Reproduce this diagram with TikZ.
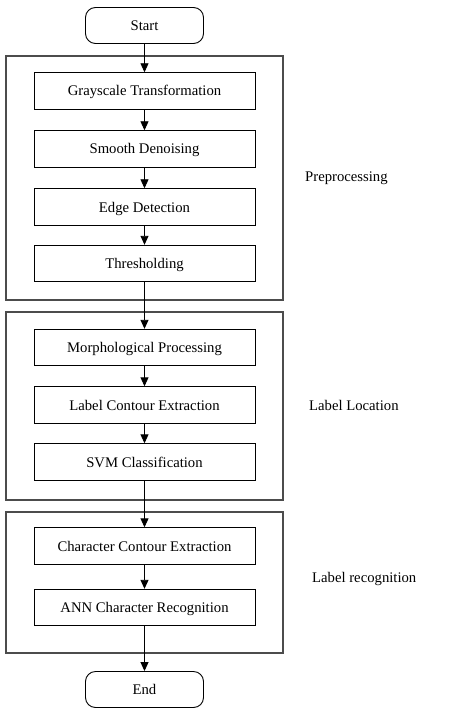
\documentclass[tikz,border=0pt]{standalone}
\usepackage{fontspec}
\setmainfont{Liberation Serif}
\usetikzlibrary{arrows.meta}
\begin{document}
\begin{tikzpicture}[x=1pt,y=-1pt,
  every node/.style={font=\fontsize{14.7}{17}\selectfont, inner sep=0pt, text height=10pt, text depth=0pt},
  proc/.style={draw=black, line width=0.9pt, minimum width=221pt, minimum height=36.5pt},
  term/.style={draw=black, line width=0.9pt, rounded corners=10pt, minimum width=118pt, minimum height=36pt},
  frame/.style={draw=black!70, line width=1.2pt},
  flow/.style={-{Triangle[length=9pt,width=8pt]}, line width=0.9pt},
  grp/.style={anchor=west}]
\useasboundingbox (0,0) rectangle (474,714);
% frames
\draw[frame] (6,56) rectangle (283,300);
\draw[frame] (6,312) rectangle (283,500);
\draw[frame] (6,512) rectangle (283,653);
% nodes
\node[term] (start) at (144.5,25.5) {Start};
\node[proc] (g) at (144.5,91) {Grayscale Transformation};
\node[proc] (s) at (144.5,149) {Smooth Denoising};
\node[proc] (e) at (144.5,207) {Edge Detection};
\node[proc] (t) at (144.5,263.5) {Thresholding};
\node[proc] (m) at (144.5,347.5) {Morphological Processing};
\node[proc] (l) at (144.5,405) {Label Contour Extraction};
\node[proc] (v) at (144.5,462) {SVM Classification};
\node[proc] (c) at (144.5,546) {Character Contour Extraction};
\node[proc] (a) at (144.5,607.5) {ANN Character Recognition};
\node[term] (end) at (144.5,689.5) {End};
% group labels
\node[grp] (p1) at (305,177) {Preprocessing};
\node[grp] (p2) at (309,405.5) {Label Location};
\node[grp] (p3) at (312,577.5) {Label recognition};
% connectors
\draw[flow] (start) -- (g);
\draw[flow] (g) -- (s);
\draw[flow] (s) -- (e);
\draw[flow] (e) -- (t);
\draw[flow] (t) -- (m);
\draw[flow] (m) -- (l);
\draw[flow] (l) -- (v);
\draw[flow] (v) -- (c);
\draw[flow] (c) -- (a);
\draw[flow] (a) -- (end);
\end{tikzpicture}
\end{document}
